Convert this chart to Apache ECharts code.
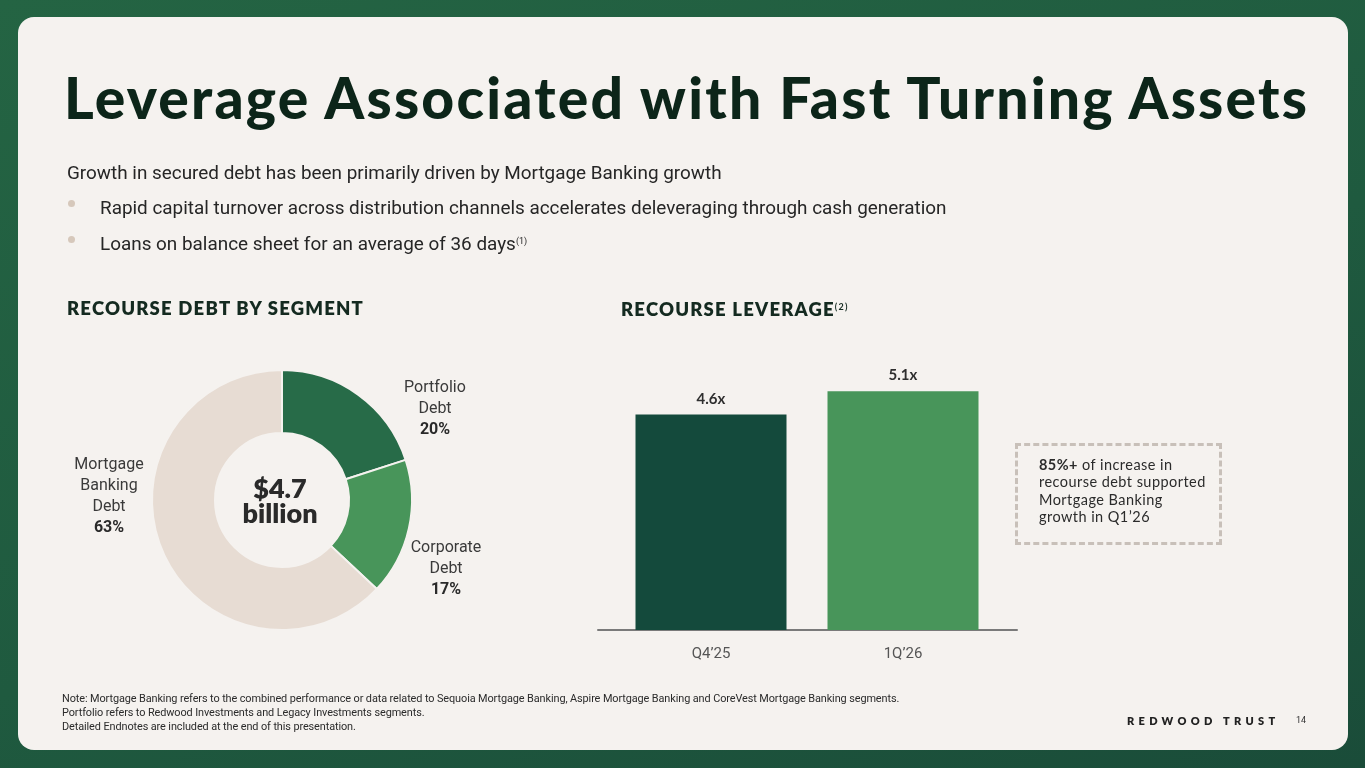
<!DOCTYPE html>
<html>
<head>
<meta charset="utf-8">
<script src="https://cdn.jsdelivr.net/npm/echarts@6/dist/echarts.min.js"></script>
<style>
  html, body { margin: 0; padding: 0; }
  body {
    width: 1365px; height: 768px; overflow: hidden; position: relative;
    background: linear-gradient(160deg, #246443 0%, #1f5a3f 55%, #1a4c39 100%);
  }
  .card {
    position: absolute; left: 18px; top: 17px; width: 1330px; height: 733px;
    background: #f5f2ef; border-radius: 16px;
  }
  #chart { position: absolute; left: 0; top: 0; width: 1365px; height: 768px; }
  .txt { position: absolute; white-space: nowrap; color: #1e1e1e; }
  .title {
    left: 64px; top: 63px; font-family: Lato, sans-serif; font-weight: 900;
    font-size: 57px; color: #0c2519; letter-spacing: 2.2px;
  }
  .body { font-family: Roboto, sans-serif; font-size: 18.9px; color: #262626; }
  .bullet {
    position: absolute; width: 7px; height: 7px; border-radius: 50%; background: #d6c8bb;
  }
  .sup { font-size: 9px; vertical-align: 6px; }
  .head {
    font-family: Lato, sans-serif; font-weight: 800; font-size: 18.5px; color: #142a20;
    letter-spacing: 1.2px;
  }
  .center {
    left: 180px; width: 200px; top: 475px; text-align: center;
    font-family: Lato, sans-serif; font-weight: 800; font-size: 27px; line-height: 25px; color: #2a2a2a;
  }
  .box {
    position: absolute; left: 1015px; top: 443px; width: 201px; height: 96px;
    border: 3px dashed #c8c0b9;
  }
  .boxtxt {
    left: 1039px; top: 456px; font-family: Lato, sans-serif; font-size: 14.5px;
    line-height: 17.3px; color: #2b2b2b; letter-spacing: 0.45px;
  }
  .note {
    left: 62px; top: 692px; font-family: Roboto, sans-serif; font-size: 10.9px;
    line-height: 14px; color: #2b2b2b; letter-spacing: -0.1px;
  }
  .brand {
    left: 1127px; top: 714px; font-family: Lato, sans-serif; font-weight: 800;
    font-size: 11px; letter-spacing: 4.3px; color: #222;
  }
  .page { left: 1296px; top: 715px; font-family: Roboto, sans-serif; font-size: 9px; color: #333; }
</style>
</head>
<body>
<div class="card"></div>
<div id="chart"></div>

<div class="txt title">Leverage Associated with Fast Turning Assets</div>
<div class="txt body" style="left:67px; top:161px;">Growth in secured debt has been primarily driven by Mortgage Banking growth</div>
<div class="bullet" style="left:68px; top:200px;"></div>
<div class="txt body" style="left:100px; top:196px;">Rapid capital turnover across distribution channels accelerates deleveraging through cash generation</div>
<div class="bullet" style="left:68px; top:236px;"></div>
<div class="txt body" style="left:100px; top:232px;">Loans on balance sheet for an average of 36 days<span class="sup">(1)</span></div>

<div class="txt head" style="left:67px; top:297px;">RECOURSE DEBT BY SEGMENT</div>
<div class="txt head" style="left:621px; top:298px;">RECOURSE LEVERAGE<span class="sup" style="font-weight:700">(2)</span></div>

<div class="txt center">$4.7<br>billion</div>

<div class="box"></div>
<div class="txt boxtxt"><b>85%+</b> of increase in<br>recourse debt supported<br>Mortgage Banking<br>growth in Q1’26</div>

<div class="txt note">Note: Mortgage Banking refers to the combined performance or data related to Sequoia Mortgage Banking, Aspire Mortgage Banking and CoreVest Mortgage Banking segments.<br>Portfolio refers to Redwood Investments and Legacy Investments segments.<br>Detailed Endnotes are included at the end of this presentation.</div>
<div class="txt brand">REDWOOD TRUST</div>
<div class="txt page">14</div>

<script>
// donut data
const segments = ['Portfolio\nDebt', 'Corporate\nDebt', 'Mortgage\nBanking\nDebt']
const segmentShare = [20, 17, 63]
const segmentColors = ['#276b48', '#48955a', '#e7dcd3']

// bar data
const quarters = ['Q4’25', '1Q’26']
const leverage = [4.6, 5.1]
const barColors = ['#144a3c', '#48955a']

// where each donut label sits on the page
const labelPos = [[435, 409], [446, 569], [109, 496]]

const chart = echarts.init(document.getElementById('chart'), null, { renderer: 'canvas' })

const option = {
  animation: false,
  textStyle: { fontFamily: 'Roboto, sans-serif' },
  grid: [
    { left: 615, top: 349, width: 384, height: 281 },
    { left: 598, top: 349, width: 419, height: 281 }
  ],
  xAxis: [
    {
      type: 'category',
      gridIndex: 0,
      data: quarters,
      axisLine: { show: false },
      axisTick: { show: false },
      axisLabel: { margin: 17, fontSize: 15, color: '#555', fontFamily: 'Roboto, sans-serif' }
    },
    {
      type: 'category',
      gridIndex: 1,
      data: [''],
      axisLine: { show: true, lineStyle: { color: '#7a7a7a', width: 2 } },
      axisTick: { show: false },
      axisLabel: { show: false }
    }
  ],
  yAxis: [
    { type: 'value', gridIndex: 0, min: 0, max: 6, show: false },
    { type: 'value', gridIndex: 1, min: 0, max: 6, show: false }
  ],
  series: [
    {
      type: 'pie',
      center: [282, 500],
      radius: [67, 130],
      startAngle: 90,
      clockwise: true,
      silent: true,
      itemStyle: { borderColor: '#f5f2ef', borderWidth: 2 },
      labelLine: { show: false },
      label: {
        show: true,
        position: 'outside',
        formatter: p => p.name.split('\n').map(s => '{n|' + s + '}').join('\n') + '\n{p|' + p.value + '%}',
        rich: {
          n: { fontSize: 16, lineHeight: 21, color: '#3a3a3a', fontFamily: 'Roboto, sans-serif', align: 'center' },
          p: { fontSize: 16, lineHeight: 21, color: '#2a2a2a', fontWeight: 'bold', fontFamily: 'Roboto, sans-serif', align: 'center' }
        }
      },
      labelLayout: p => ({
        x: labelPos[p.dataIndex][0],
        y: labelPos[p.dataIndex][1],
        align: 'center',
        verticalAlign: 'middle'
      }),
      data: segments.map((name, i) => ({
        name,
        value: segmentShare[i],
        itemStyle: { color: segmentColors[i] }
      }))
    },
    {
      type: 'bar',
      xAxisIndex: 0,
      yAxisIndex: 0,
      barWidth: 151,
      silent: true,
      label: {
        show: true,
        position: 'top',
        distance: 8,
        formatter: '{c}x',
        fontSize: 15,
        fontWeight: 'bold',
        color: '#2f2f2f',
        fontFamily: 'Lato, sans-serif'
      },
      data: leverage.map((v, i) => ({ value: v, itemStyle: { color: barColors[i] } }))
    }
  ]
}

chart.setOption(option)
window.addEventListener('resize', chart.resize)
</script>
</body>
</html>
